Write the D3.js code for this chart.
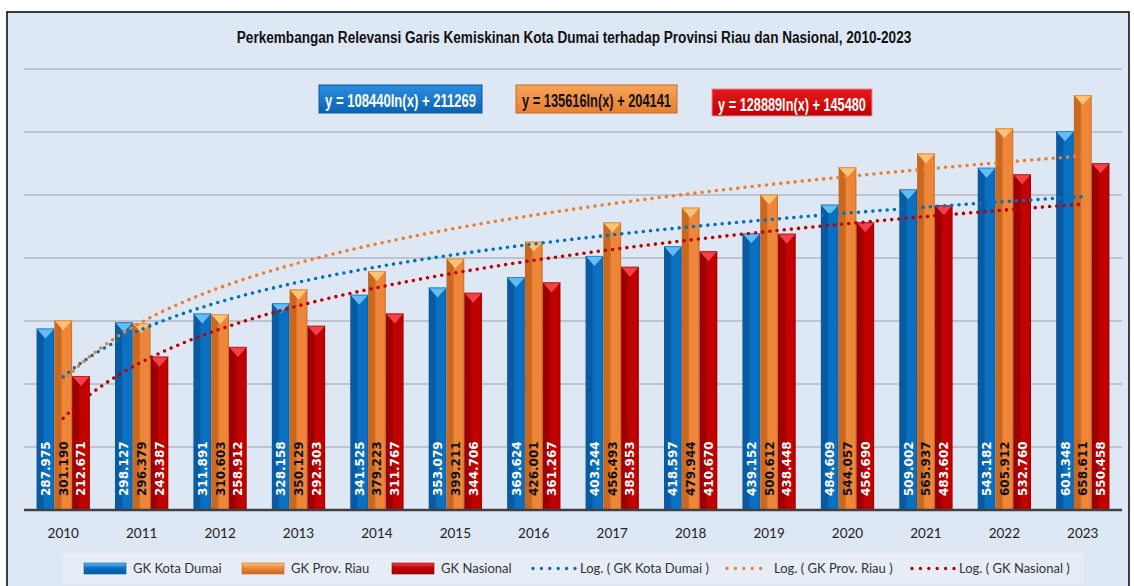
<!DOCTYPE html>
<html>
<head>
<meta charset="utf-8">
<script src="https://cdn.jsdelivr.net/npm/d3@7"></script>
<style>
  body { margin: 0; background: #fff; }
  svg { display: block; }
</style>
</head>
<body>
<script>
// data (Rupiah / kapita / bulan)
const years = ["2010","2011","2012","2013","2014","2015","2016","2017","2018","2019","2020","2021","2022","2023"];
const gkDumai = [287975, 298127, 311891, 328158, 341525, 353079, 369624, 403244, 418597, 439152, 484609, 509002, 543182, 601348];
const gkRiau = [301190, 296379, 310603, 350129, 379223, 399211, 426001, 456493, 479944, 500612, 544057, 565937, 605912, 658611];
const gkNasional = [212671, 243387, 258912, 292303, 311767, 344706, 361267, 385953, 410670, 438448, 456690, 483602, 532760, 550458];
const seriesNames = ["GK Kota Dumai", "GK Prov. Riau", "GK Nasional"];
// log trend coefficients (y = a ln(x) + b)
const trendA = [108440, 135616, 128889];
const trendB = [211269, 204141, 145480];
const yTicks = [100000, 200000, 300000, 400000, 500000, 600000, 700000];

const W = 1134, H = 586;
const series = [gkDumai, gkRiau, gkNasional];
const colors = [
  {base: "#0a70c2", dark: "#0a5aa2", light: "#62bdf6", line: "#0070c0", text: "#fff"},
  {base: "#ee8639", dark: "#c9681f", light: "#fdc378", line: "#ed7d31", text: "#111"},
  {base: "#c10000", dark: "#9c0000", light: "#f2414a", line: "#c00000", text: "#fff"}
];
const narrow = "'Liberation Sans Narrow', 'Arial Narrow', 'Liberation Sans', Arial, sans-serif";
const calibri = "Lato, 'Open Sans', sans-serif";

const svg = d3.select("body").append("svg")
    .attr("width", W)
    .attr("height", H);

// squeeze a text horizontally to a given width (no narrow font installed)
function squeeze(sel, cx, cy, width) {
  let natural = sel.node().getComputedTextLength();
  let k = Math.min(1, width / natural);
  sel.attr("x", 0).attr("y", 0)
     .attr("transform", "translate(" + cx + "," + cy + ") scale(" + k + ",1)");
}

const defs = svg.append("defs");
colors.forEach(function(c, i) {
  let g = defs.append("linearGradient").attr("id", "bar" + i)
      .attr("x1", 0).attr("x2", 1).attr("y1", 0).attr("y2", 0);
  g.append("stop").attr("offset", 0).attr("stop-color", c.dark);
  g.append("stop").attr("offset", 0.35).attr("stop-color", c.dark);
  g.append("stop").attr("offset", 0.45).attr("stop-color", c.base);
  g.append("stop").attr("offset", 0.9).attr("stop-color", c.base);
  g.append("stop").attr("offset", 1).attr("stop-color", c.dark);
  let v = defs.append("linearGradient").attr("id", "sw" + i)
      .attr("x1", 0).attr("x2", 0).attr("y1", 0).attr("y2", 1);
  v.append("stop").attr("offset", 0).attr("stop-color", c.light);
  v.append("stop").attr("offset", 0.45).attr("stop-color", c.base);
  v.append("stop").attr("offset", 1).attr("stop-color", c.dark);
});

// chart background + border
svg.append("rect")
    .attr("x", 7).attr("y", 12)
    .attr("width", 1122).attr("height", 590)
    .attr("fill", "#dde8f4")
    .attr("stroke", "#111")
    .attr("stroke-width", 1.6);

// title
let title = svg.append("text")
    .attr("text-anchor", "middle")
    .attr("font-family", narrow)
    .attr("font-weight", "bold")
    .attr("font-size", 17)
    .attr("fill", "#111")
    .text("Perkembangan Relevansi Garis Kemiskinan Kota Dumai terhadap Provinsi Riau dan Nasional, 2010-2023");
squeeze(title, 574, 43, 675);

// scales
const x = d3.scaleBand().domain(years).range([24, 1122]).paddingInner(0.32).paddingOuter(0.16);
const xs = d3.scaleBand().domain([0, 1, 2]).range([0, x.bandwidth()]);
const y = d3.scaleLinear().domain([0, 700000]).range([510, 69]);

// gridlines
svg.append("g").selectAll("line")
  .data(yTicks)
  .join("line")
    .attr("x1", 24).attr("x2", 1122)
    .attr("y1", d => y(d)).attr("y2", d => y(d))
    .attr("stroke", "#bcc5cf")
    .attr("stroke-width", 2);

// bars
const groups = svg.append("g").selectAll("g")
  .data(years)
  .join("g")
    .attr("transform", d => "translate(" + x(d) + ",0)");

series.forEach(function(vals, si) {
  let bw = xs.bandwidth();
  groups.append("rect")
      .attr("x", xs(si))
      .attr("y", (d, i) => y(vals[i]))
      .attr("width", bw)
      .attr("height", (d, i) => y(0) - y(vals[i]))
      .attr("fill", "url(#bar" + si + ")");
  groups.append("path")
      .attr("d", function(d, i) {
        let x0 = xs(si), t = y(vals[i]);
        return "M" + x0 + "," + t + "L" + (x0 + bw) + "," + t + "L" + (x0 + bw / 2) + "," + (t + 10) + "Z";
      })
      .attr("fill", colors[si].light);
  groups.append("line")
      .attr("x1", xs(si)).attr("x2", xs(si) + bw)
      .attr("y1", (d, i) => y(vals[i]) + 0.5).attr("y2", (d, i) => y(vals[i]) + 0.5)
      .attr("stroke", colors[si].dark)
      .attr("stroke-opacity", 0.5);
});

// axis line
svg.append("line")
    .attr("x1", 24).attr("x2", 1122)
    .attr("y1", 510).attr("y2", 510)
    .attr("stroke", "#404040")
    .attr("stroke-width", 2.5);

// trend lines
const tx = d3.scaleLinear().domain([1, 14])
    .range([x(years[0]) + x.bandwidth() / 2, x(years[13]) + x.bandwidth() / 2]);
const line = d3.line().x(d => tx(d[0])).y(d => y(d[1]));
trendA.forEach(function(a, si) {
  let pts = d3.range(1, 14.001, 0.05).map(t => [t, a * Math.log(t) + trendB[si]]);
  svg.append("path")
      .attr("d", line(pts))
      .attr("fill", "none")
      .attr("stroke", colors[si].line)
      .attr("stroke-width", 3.6)
      .attr("stroke-linecap", "round")
      .attr("stroke-dasharray", "0,7.2");
});

// value labels
const fmt = v => d3.format(",")(v).replace(/,/g, ".");
series.forEach(function(vals, si) {
  groups.append("text")
      .attr("transform", function(d) {
        return "translate(" + (xs(si) + xs.bandwidth() / 2 + 0.5) + ",496) rotate(-90)";
      })
      .attr("dominant-baseline", "central")
      .attr("font-family", "'DejaVu Sans', Verdana, sans-serif")
      .attr("font-weight", "bold")
      .attr("font-size", 12)
      .attr("fill", colors[si].text)
      .text((d, i) => fmt(vals[i]));
});

// year labels
svg.append("g").selectAll("text")
  .data(years)
  .join("text")
    .attr("x", d => x(d) + x.bandwidth() / 2)
    .attr("y", 538)
    .attr("text-anchor", "middle")
    .attr("font-family", calibri)
    .attr("font-size", 13.5)
    .attr("fill", "#222")
    .text(d => d);

// equation boxes
const eqBoxes = [
  {x: 319, y: 85, w: 163, h: 28},
  {x: 516, y: 85, w: 161, h: 28},
  {x: 712, y: 89, w: 160, h: 27}
];
const eqFill = [["#2c8ee0", "#0a62b4", "#0a58a0"], ["#f6a45a", "#e8802f", "#c96a22"], ["#e81a1a", "#bf0000", "#e89090"]];
eqBoxes.forEach(function(b, si) {
  let g = defs.append("linearGradient").attr("id", "eq" + si)
      .attr("x1", 0).attr("x2", 0).attr("y1", 0).attr("y2", 1);
  g.append("stop").attr("offset", 0).attr("stop-color", eqFill[si][0]);
  g.append("stop").attr("offset", 1).attr("stop-color", eqFill[si][1]);
  svg.append("rect")
      .attr("x", b.x).attr("y", b.y)
      .attr("width", b.w).attr("height", b.h)
      .attr("fill", "url(#eq" + si + ")")
      .attr("stroke", eqFill[si][2])
      .attr("stroke-width", 1);
  let eq = "y = " + trendA[si] + "ln(x) + " + trendB[si];
  let t = svg.append("text")
      .attr("text-anchor", "middle")
      .attr("dominant-baseline", "central")
      .attr("font-family", narrow)
      .attr("font-weight", "bold")
      .attr("font-size", 19)
      .attr("fill", colors[si].text)
      .text(eq);
  squeeze(t, b.x + b.w / 2, b.y + b.h / 2 + 1, b.w - 12);
});

// legend
svg.append("rect")
    .attr("x", 63).attr("y", 553)
    .attr("width", 1021).attr("height", 31)
    .attr("fill", "#e6edf6");

const legBars = [84, 242, 392];
legBars.forEach(function(lx, si) {
  svg.append("rect")
      .attr("x", lx).attr("y", 563)
      .attr("width", 42).attr("height", 11)
      .attr("fill", "url(#sw" + si + ")")
      .attr("stroke", colors[si].dark)
      .attr("stroke-width", 0.6);
  svg.append("text")
      .attr("x", lx + 49).attr("y", 573)
      .attr("font-family", calibri)
      .attr("font-size", 13)
      .attr("fill", "#333")
      .text(seriesNames[si]);
});

const legDots = [533, 727, 912];
legDots.forEach(function(lx, si) {
  svg.append("line")
      .attr("x1", lx).attr("x2", lx + 42)
      .attr("y1", 568.5).attr("y2", 568.5)
      .attr("stroke", colors[si].line)
      .attr("stroke-width", 3.4)
      .attr("stroke-linecap", "round")
      .attr("stroke-dasharray", "0,8.4");
  svg.append("text")
      .attr("x", lx + 47).attr("y", 573)
      .attr("font-family", calibri)
      .attr("font-size", 13)
      .attr("fill", "#333")
      .text("Log. ( " + seriesNames[si] + " )");
});
</script>
</body>
</html>
